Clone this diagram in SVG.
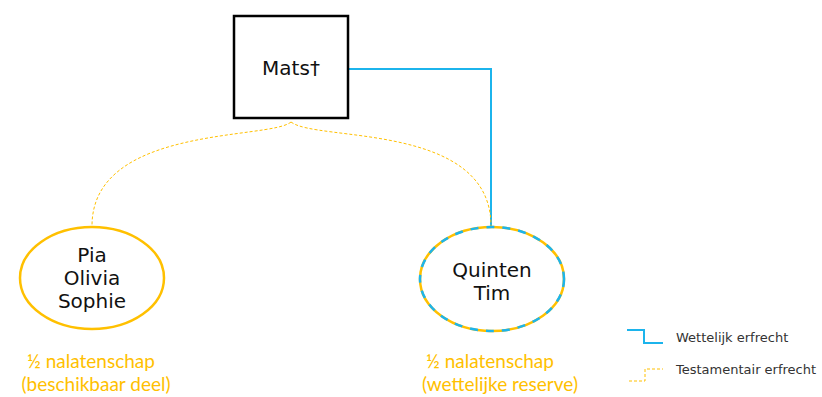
<svg xmlns="http://www.w3.org/2000/svg" width="822" height="397" viewBox="0 0 822 397">
  <style>
    .name { font-family: "DejaVu Sans", Verdana, sans-serif; font-size: 20px; fill: #111; text-anchor: middle; }
    .share { font-family: Lato, "Open Sans", sans-serif; font-size: 19px; fill: #FFC000; text-anchor: middle; }
    .legend { font-family: "DejaVu Sans", Verdana, sans-serif; font-size: 13px; fill: #333; }
    .legal { fill: none; stroke: #1CB4EC; stroke-width: 2; }
    .will { fill: none; stroke: #FFC000; stroke-width: 1; stroke-dasharray: 3 2; }
  </style>
  <rect width="822" height="397" fill="#fff"/>

  <!-- connectors -->
  <g id="connectors">
    <path class="legal" d="M349 69 H491 V228"/>
    <path class="will" d="M291 122 C270 140 92 125 92 226"/>
    <path class="will" d="M291 122 C316 142 491 122 491 226"/>
  </g>

  <!-- deceased -->
  <g id="mats">
    <rect x="234" y="16" width="114" height="102" fill="#fff" stroke="#000" stroke-width="2.5"/>
    <text class="name" x="291" y="75">Mats†</text>
  </g>

  <!-- heirs by will -->
  <g id="pia-olivia-sophie">
    <ellipse cx="92" cy="278" rx="72" ry="51" fill="#fff" stroke="#FFC000" stroke-width="2.5"/>
    <text class="name" x="92" y="262">Pia</text>
    <text class="name" x="92" y="285">Olivia</text>
    <text class="name" x="92" y="308">Sophie</text>
    <text class="share" x="91" y="368">½ nalatenschap</text>
    <text class="share" x="96" y="391">(beschikbaar deel)</text>
  </g>

  <!-- legal heirs -->
  <g id="quinten-tim">
    <ellipse cx="492" cy="279" rx="72" ry="52" fill="#fff" stroke="#FFC000" stroke-width="2.5"/>
    <ellipse cx="492" cy="279" rx="72" ry="52" fill="none" stroke="#1CB4EC" stroke-width="2.5" stroke-dasharray="8 8"/>
    <text class="name" x="492" y="277">Quinten</text>
    <text class="name" x="492" y="300">Tim</text>
    <text class="share" x="490" y="368">½ nalatenschap</text>
    <text class="share" x="500" y="391">(wettelijke reserve)</text>
  </g>

  <!-- legend -->
  <g id="legend">
    <path class="legal" d="M627 330 H644 V343 H663"/>
    <text class="legend" x="676" y="342">Wettelijk erfrecht</text>
    <path class="will" d="M629 381 H645 V369 H663"/>
    <text class="legend" x="676" y="374">Testamentair erfrecht</text>
  </g>
</svg>
